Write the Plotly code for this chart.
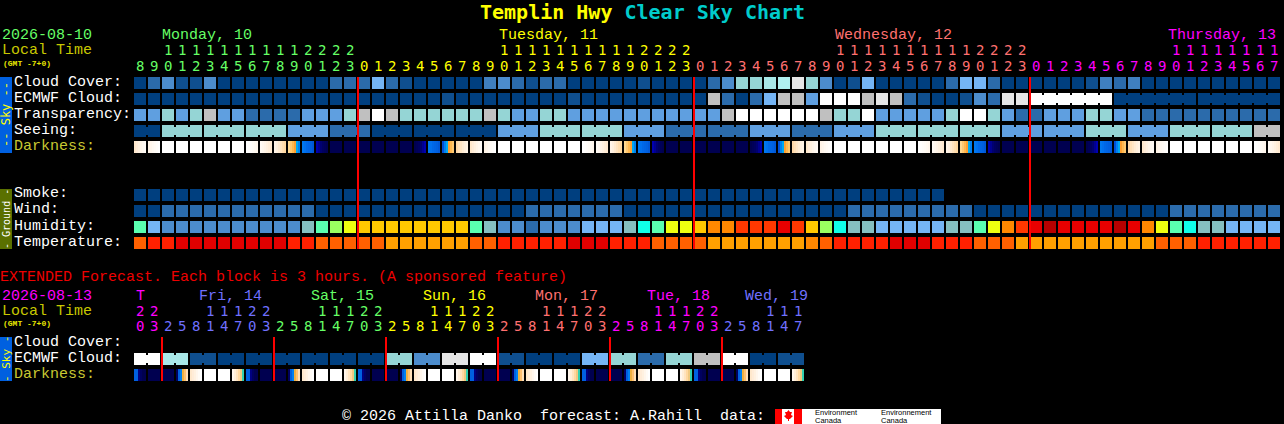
import plotly.graph_objects as go

W, H = 1284, 424
MONO = "Liberation Mono"
BOLD = "DejaVu Sans Mono"

# ---- data: level codes per hour ----
cloud_cover = list("acdbbdaaaa" "aaaacccfcb" "aaaaaDdcbc" "caaaaabaaa" "acdgghHjgd" "abfaaaaacf" "fcaaaaaabD" "cDaaaaaaaaaa")
ecmwf_cloud = list("aaaaaaaaaa" "aaaaaaaaaa" "aabaaaaaaa" "abaaaaaaaa" "aicacfiiek" "kkijicbaab" "dcjjkkkkkk" "aaaaaaaaaaaa")
ecmwf_group_codes = ["a"] * 64 + ["k", "a", "a"]
ecmwf_group_sizes = [1] * 64 + [6, 6, 6]
transparency = list("eegegieecc" "cceeegikig" "gggggigeeg" "geeeeeeeee" "eeikkkkkki" "ggkeeeeegk" "kgecceeegg" "eecccccccccc")
seeing_groups = list("agggecaaaeggeccecegggeegeggi")
seeing_group_sizes = [2] + [3] * 26 + [2]
darkness = (["m1", "m0"] + ["W"] * 6 + ["e0", "e1", "e2", "S", "B", "N0"] + ["N"] * 6 + ["N1", "B", "R", "m2", "m1", "m0"]
            + ["W"] * 6 + ["e0", "e1", "e2", "S", "B", "N0"] + ["N"] * 6 + ["N1", "B", "R", "m2", "m1", "m0"]
            + ["W"] * 6 + ["e0", "e1", "e2", "S", "B", "N0"] + ["N"] * 6 + ["N1", "B", "R", "m2", "m1", "m0"]
            + ["W"] * 6 + ["e0", "e1"])
smoke = list("a" * 58)
wind = list("aacccccccc" "cccaaaaaaa" "aaaaaaaacc" "cccccaaaaa" "aaaaaaaaaa" "accccccccc" "aaaaaaaaaa" "aaaacccccccc")
humidity = list("Sfdddddddd" "ddTSLYoooo" "ooooSTddcd" "ddfffTCSYY" "opprrrRroL" "CTTfffffTT" "SYprRQRRRR" "QRpYSCTTffff")
temperature = list("nmmlllllll" "lmmnnnnnqq" "qqqqnnmmmm" "mlllmmmnnn" "nqqqqqqqpn" "mmmmlllmmm" "nnnqqqqqqq" "qqqnnnmmmmmm")

ext_ecmwf_blocks = list("khbaaaaaagdjkbaafgcgikab")
ext_darkness = (["x1", "N", "N", "Sr", "M", "W", "W", "E"] * 6)

main_hours = list(range(8, 24)) + list(range(24)) + list(range(24)) + list(range(18))
main_days = [("Monday, 10", 162, "g"), ("Tuesday, 11", 499, "y"), ("Wednesday, 12", 835, "s"), ("Thursday, 13", 1168, "v")]
main_hour_colors = ["g"] * 16 + ["y"] * 24 + ["s"] * 24 + ["v"] * 18
ext_hours = [20, 23] + [2, 5, 8, 11, 14, 17, 20, 23] * 5 + [2, 5, 8, 11, 14, 17]
ext_hour_colors = ["v"] * 2 + ["u"] * 8 + ["g"] * 8 + ["y"] * 8 + ["s"] * 8 + ["v"] * 8 + ["u"] * 6
ext_days = [("T", 136, "v"), ("Fri, 14", 199, "u"), ("Sat, 15", 311, "g"), ("Sun, 16", 423, "y"),
            ("Mon, 17", 535, "s"), ("Tue, 18", 647, "v"), ("Wed, 19", 745, "u")]
main_midnights = [16, 40, 64]
ext_midnights = [2, 10, 18, 26, 34, 42]
main_rows = ["Cloud Cover:", "ECMWF Cloud:", "Transparency:", "Seeing:", "Darkness:", None, None,
             "Smoke:", "Wind:", "Humidity:", "Temperature:"]
ext_rows = ["Cloud Cover:", "ECMWF Cloud:", "Darkness:"]

# ---- styles ----
PAL = {"a": "#003f7f", "b": "#0f4f8f", "c": "#2b6bab", "D": "#3f7fbf", "d": "#4c8ccc", "e": "#5f9fe0", "f": "#75b5f5",
       "g": "#95d5d5", "h": "#a8e8e8", "H": "#b0f0f0", "i": "#c0c0c0", "j": "#e6e6e6", "k": "#ffffff",
       "S": "#5affb0", "T": "#85bfc0", "L": "#9bff60", "Y": "#eeff10", "o": "#ffc800", "C": "#10ffe8", "p": "#ff8800",
       "r": "#ff3800", "R": "#e80000", "Q": "#b80000", "n": "#ff6000", "m": "#ff2000", "l": "#e00000", "q": "#ffa000"}
TXT = {"g": "#66ff66", "y": "#ffff00", "s": "#ff7070", "v": "#ff00ff", "u": "#7070ff"}
GRAD = {"W": ["#ffffff"] * 6,
        "m2": ["#ffd8a8", "#ffe0b8", "#ffe6c6", "#ffecd4", "#fff0de", "#fff4e6"],
        "m1": ["#ffe8cc", "#ffecd8", "#fff1e0", "#fff5e9", "#fff8f0", "#fffaf5"],
        "m0": ["#fff3e6", "#fff6ec", "#fff9f2", "#fffbf6", "#fffdfa", "#ffffff"],
        "e0": ["#ffffff", "#fffefc", "#fffcf9", "#fffbf5", "#fff9f1", "#fff6ec"],
        "e1": ["#fffaf4", "#fff7ee", "#fff4e8", "#fff1e0", "#ffedd8", "#ffe9d0"],
        "e2": ["#fff4e8", "#fff0de", "#ffead0", "#ffe4c0", "#ffdeb0", "#ffd8a0"],
        "S": ["#ffd890", "#ffc870", "#ffb850", "#ffa030", "#00a8f0", "#0080f0"],
        "B": ["#0078f0", "#0070ee", "#0068e8", "#0064e4", "#0060e0", "#0058d8"],
        "R": ["#0050d8", "#0080f0", "#00a8f0", "#ffa030", "#ffb850", "#ffc870"],
        "N0": ["#0000b0", "#000090", "#000070", "#000060", "#000058", "#000050"],
        "N": ["#000050"] * 6,
        "N1": ["#000050", "#000058", "#000060", "#000070", "#000090", "#0000b0"],
        "x1": ["#0060e0", "#0060e0", "#000080", "#000060", "#000050", "#000050"],
        "Sr": ["#000060", "#0060e0", "#0080f0", "#f0b040", "#ffc070", "#ffe0b8"],
        "M": ["#ffe8cc", "#ffecd8", "#fff1e0", "#fff6ec", "#fffbf6", "#ffffff"],
        "E": ["#fff6ec", "#ffeed8", "#ffe4c0", "#ffd8a0", "#f0c880", "#30d0b0"]}
CELL = 12 / 14
RH = 12 / 16


def cells(col_codes, row, yaxis="y", start=0):
    return go.Bar(x=[start + i for i in range(len(col_codes))], y=[RH] * len(col_codes),
                  base=[row - RH / 2] * len(col_codes), width=CELL, yaxis=yaxis, xaxis="x",
                  marker=dict(color=[PAL[c] for c in col_codes], line=dict(width=0)), hoverinfo="skip")


def links(codes, sizes, row, yaxis="y"):
    xs, cols, pos = [], [], 0
    for code, size in zip(codes, sizes):
        for k in range(size - 1):
            xs.append(pos + k + 0.5)
            cols.append(PAL[code])
        pos += size
    return go.Bar(x=xs, y=[0.5] * len(xs), base=[row - 0.25] * len(xs), width=2 / 14, yaxis=yaxis, xaxis="x",
                  marker=dict(color=cols, line=dict(width=0)), hoverinfo="skip")


def strips(keys, row, yaxis="y"):
    xs, cols = [], []
    for i, key in enumerate(keys):
        for s, col in enumerate(GRAD[key]):
            xs.append(i + (s - 2.5) * 2 / 14)
            cols.append(col)
    return go.Bar(x=xs, y=[RH] * len(xs), base=[row - RH / 2] * len(xs), width=2 / 14, yaxis=yaxis, xaxis="x",
                  marker=dict(color=cols, line=dict(width=0)), hoverinfo="skip")


def expand(codes, sizes):
    out = []
    for c, n in zip(codes, sizes):
        out += [c] * n
    return out


seeing = expand(seeing_groups, seeing_group_sizes)
ext_ecmwf = expand(ext_ecmwf_blocks, [2] * 24)

traces = [
    cells(cloud_cover, 0), cells(ecmwf_cloud, 1), links(ecmwf_group_codes, ecmwf_group_sizes, 1),
    cells(transparency, 2), cells(seeing, 3), links(seeing_groups, seeing_group_sizes, 3),
    strips(darkness, 4), cells(smoke, 7), cells(wind, 8), cells(humidity, 9), cells(temperature, 10),
    cells(ext_ecmwf, 1, "y2"), links(ext_ecmwf_blocks, [2] * 24, 1, "y2"), strips(ext_darkness, 2, "y2"),
]


def px(x):
    return x / W


def py(y):
    return 1 - y / H


ann = []


def label(text, x, y, color, size=15, bold=False, family=MONO, anchor="left", xref="paper", angle=0):
    t = f"<b>{text}</b>" if bold else text
    ann.append(dict(text=t, x=px(x) if xref == "paper" else x, y=py(y), xref=xref, yref="paper", xanchor=anchor,
                    yanchor="middle", showarrow=False, borderpad=0, borderwidth=0, textangle=angle,
                    font=dict(family=family, size=size, color=color)))


# title
label("Templin Hwy <span style='fill:#00cccc'>Clear Sky Chart</span>", 642, 12, "#ffff00", size=20, bold=True, anchor="center", family=BOLD)

# main header
label("2026-08-10", 2, 36, TXT["g"], size=15)
label("Local Time", 2, 51, "#c8c800", size=15)
label("(GMT -7+0)", 3, 63, "#e8e800", size=8, bold=True)
for text, x, c in main_days:
    label(text, x, 36, TXT[c])
for i, (h, c) in enumerate(zip(main_hours, main_hour_colors)):
    if h >= 10:
        label(str(h // 10), i, 50.5, TXT[c], anchor="center", xref="x", size=14, family=BOLD)
    label(str(h % 10), i, 65.5, TXT[c], anchor="center", xref="x", size=14, family=BOLD)

# row labels
for r, text in enumerate(main_rows):
    if text:
        label(text, 14, 82 + 16 * r, "#c8c832" if text == "Darkness:" else "#ffffff")
for r, text in enumerate(ext_rows):
    label(text, 14, 342 + 16 * r, "#c8c832" if text == "Darkness:" else "#ffffff")

# extended header
label("EXTENDED Forecast. Each block is 3 hours. (A sponsored feature)", 0, 277, "#ee0000")
label("2026-08-13", 2, 296, TXT["v"])
label("Local Time", 2, 311, "#c8c800")
label("(GMT -7+0)", 3, 323, "#e8e800", size=8, bold=True)
for text, x, c in ext_days:
    label(text, x, 296, TXT[c])
for i, (h, c) in enumerate(zip(ext_hours, ext_hour_colors)):
    if h >= 10:
        label(str(h // 10), i, 310.5, TXT[c], anchor="center", xref="x", size=14, family=BOLD)
    label(str(h % 10), i, 325.5, TXT[c], anchor="center", xref="x", size=14, family=BOLD)

# side bars text
label("-- Sky --", 6, 115, "#ffff00", size=12, anchor="center", angle=-90, family=BOLD)
label("- Ground -", 6, 219, "#ffffff", size=10, anchor="center", angle=-90, family=BOLD)
label("- Sky -", 6, 359, "#ffff00", size=11, anchor="center", angle=-90, family=BOLD)

# footer
label("© 2026 Attilla Danko\u00a0\u00a0forecast: A.Rahill\u00a0\u00a0data:", 342, 416.5, "#ffffff")
label("Environment", 815, 412.5, "#000000", size=7.5, family="Liberation Sans")
label("Canada", 815, 420, "#000000", size=7.5, family="Liberation Sans")
label("Environnement", 881, 412.5, "#000000", size=7.5, family="Liberation Sans")
label("Canada", 881, 420, "#000000", size=7.5, family="Liberation Sans")


def rect(x0, y0, x1, y1, color):
    return dict(type="rect", xref="paper", yref="paper", x0=px(x0), x1=px(x1), y0=py(y0), y1=py(y1),
                fillcolor=color, line=dict(width=0), layer="below")


shapes = [rect(0, 77, 12, 153, "#0060e0"), rect(0, 189, 12, 249, "#5a7000"), rect(0, 337, 12, 381, "#0060e0"),
          rect(775, 409, 941, 424, "#ffffff"), rect(775, 409, 782, 424, "#ff0000"), rect(794, 409, 802, 424, "#ff0000")]
leaf = [(788.5, 410), (790, 412), (792, 412), (791, 415), (793, 416), (790, 419), (789, 419), (789, 421), (788, 421),
        (788, 419), (787, 419), (784, 416), (786, 415), (785, 412), (787, 412)]
shapes.append(dict(type="path", xref="paper", yref="paper", fillcolor="#ff0000", line=dict(width=0),
                   path="M " + " L ".join(f"{px(x):.5f},{py(y):.5f}" for x, y in leaf) + " Z"))
for m in main_midnights:
    shapes.append(dict(type="line", xref="x", yref="y", x0=m - 6 / 14, x1=m - 6 / 14, y0=-0.375, y1=10.375,
                       line=dict(color="#ff0000", width=2), layer="above"))
for m in ext_midnights:
    shapes.append(dict(type="line", xref="x", yref="y2", x0=m - 6 / 14, x1=m - 6 / 14, y0=-0.375, y1=2.375,
                       line=dict(color="#ff0000", width=2), layer="above"))

fig = go.Figure(traces)
fig.update_layout(
    width=W, height=H, margin=dict(l=0, r=0, t=0, b=0), autosize=False,
    paper_bgcolor="#000000", plot_bgcolor="#000000", showlegend=False, barmode="overlay", hovermode=False,
    xaxis=dict(domain=[133 / W, 1281 / W], range=[-0.5, 81.5], visible=False, fixedrange=True, anchor="y"),
    yaxis=dict(domain=[1 - 251 / H, 1 - 75 / H], range=[10.5, -0.5], visible=False, fixedrange=True, anchor="x"),
    yaxis2=dict(domain=[1 - 383 / H, 1 - 335 / H], range=[2.5, -0.5], visible=False, fixedrange=True, anchor="x"),
    annotations=ann, shapes=shapes,
)
fig.write_html("out.html", config={"displayModeBar": False, "staticPlot": True},
               post_script="document.body.style.margin='0';document.body.style.background='#000';document.body.style.overflow='hidden';")
